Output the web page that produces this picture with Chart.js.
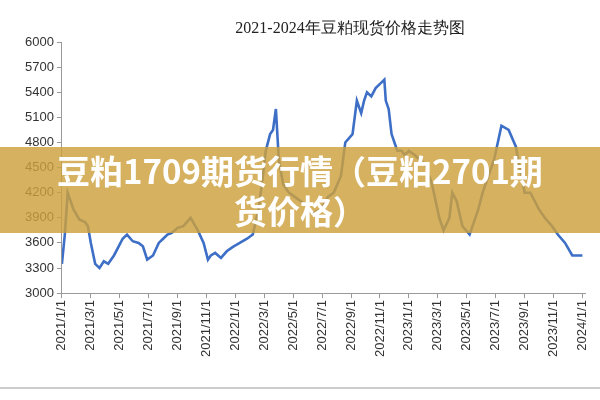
<!DOCTYPE html>
<html><head><meta charset="utf-8">
<script src="https://cdn.jsdelivr.net/npm/chart.js@4"></script>
<style>
html,body{margin:0;padding:0;background:#fff;overflow:hidden}
#wrap{position:relative;width:600px;height:400px}
#title{position:absolute;left:150px;width:400px;top:18px;text-align:center;font:16px "Liberation Serif","DejaVu Serif",serif;color:#222}
#banner{position:absolute;left:0;top:147px;width:600px;height:86px;background:rgba(205,160,60,0.82);color:#fff;font:bold 33px "Noto Sans CJK SC",sans-serif;text-align:center;line-height:40px;padding-top:3px;box-sizing:border-box}
#frame{position:absolute;left:0;top:387px;width:600px;height:2px;background:#ccc}
</style></head><body>
<div id="wrap">
<canvas id="c" width="600" height="400"></canvas>
<div id="title">2021-2024年豆粕现货价格走势图</div>
<div id="frame"></div>
<div id="banner">豆粕1709期货行情（豆粕2701期<br>货价格）</div>
</div>
<script>
const monthPos=[0,0.2,0.4,0.8,1.2,1.6,1.8,2.0,2.3,2.6,2.9,3.2,3.6,3.9,4.2,4.5,4.9,5.3,5.6,5.9,6.3,6.7,7.0,7.3,7.6,8.0,8.4,8.9,9.4,9.8,10.1,10.3,10.6,11.0,11.4,11.8,12.3,12.8,13.2,13.6,13.9,14.1,14.4,14.6,14.8,15.0,15.3,15.7,16.1,16.5,16.9,17.3,17.9,18.4,18.8,19.3,19.6,20.1,20.4,20.6,20.7,20.9,21.1,21.4,21.7,22.0,22.3,22.4,22.6,22.8,23.0,23.2,23.5,23.7,24.0,24.4,24.7,25.1,25.6,26.1,26.4,26.8,27.0,27.3,27.7,28.2,28.8,29.1,29.5,29.9,30.4,30.9,31.4,31.6,31.8,32.0,32.4,33.0,33.4,33.9,34.3,34.8,35.3,35.6,36.0,36.3,36.7];
const price=[3350,3700,4200,4000,3880,3850,3800,3600,3350,3300,3380,3350,3450,3550,3650,3700,3620,3600,3560,3400,3450,3600,3650,3700,3720,3780,3800,3900,3750,3600,3400,3450,3480,3420,3500,3550,3600,3650,3700,4000,4400,4700,4900,4950,5200,4600,4300,4200,4150,4100,4050,3950,4000,4150,4200,4400,4800,4900,5300,5200,5150,5300,5400,5350,5450,5500,5550,5300,5200,4900,4800,4700,4700,4650,4700,4650,4600,4550,4300,3900,3750,3900,4200,4100,3800,3700,4000,4200,4400,4600,5000,4950,4750,4550,4400,4200,4200,4000,3900,3800,3700,3600,3450,3450,3450];
const xTicks=[0,2,4,6,8,10,12,14,16,18,20,22,24,26,28,30,32,34,36];
const pts=monthPos.map((m,i)=>({x:m,y:price[i]}));
const axisCol='#999';
new Chart(document.getElementById('c'),{
type:'line',
data:{datasets:[{data:pts,borderColor:'#3d6fc6',borderWidth:2.6,pointRadius:0,tension:0}]},
options:{responsive:false,animation:false,
layout:{padding:{top:42,bottom:41,left:22,right:0}},
plugins:{legend:{display:false},tooltip:{enabled:false}},
scales:{
x:{type:'linear',min:0,max:36.2,
afterBuildTicks:a=>{a.ticks=xTicks.map(v=>({value:v}));},
grid:{drawOnChartArea:false,color:axisCol,tickLength:5,offset:false},
border:{color:axisCol},
ticks:{maxRotation:90,minRotation:90,autoSkip:false,color:'#333',font:{family:'Liberation Sans',size:13},padding:2,
callback:v=>{const y=2021+Math.floor(v/12),m=v%12+1;return y+'/'+m+'/1';}}},
y:{min:3000,max:6000,
afterBuildTicks:a=>{a.ticks=[];for(let v=3000;v<=6000;v+=300)a.ticks.push({value:v});},
grid:{drawOnChartArea:false,color:axisCol,tickLength:5},
border:{color:axisCol},
ticks:{color:'#333',font:{family:'Liberation Sans',size:13},padding:3,callback:v=>String(v)}}
}}});
</script></body></html>
